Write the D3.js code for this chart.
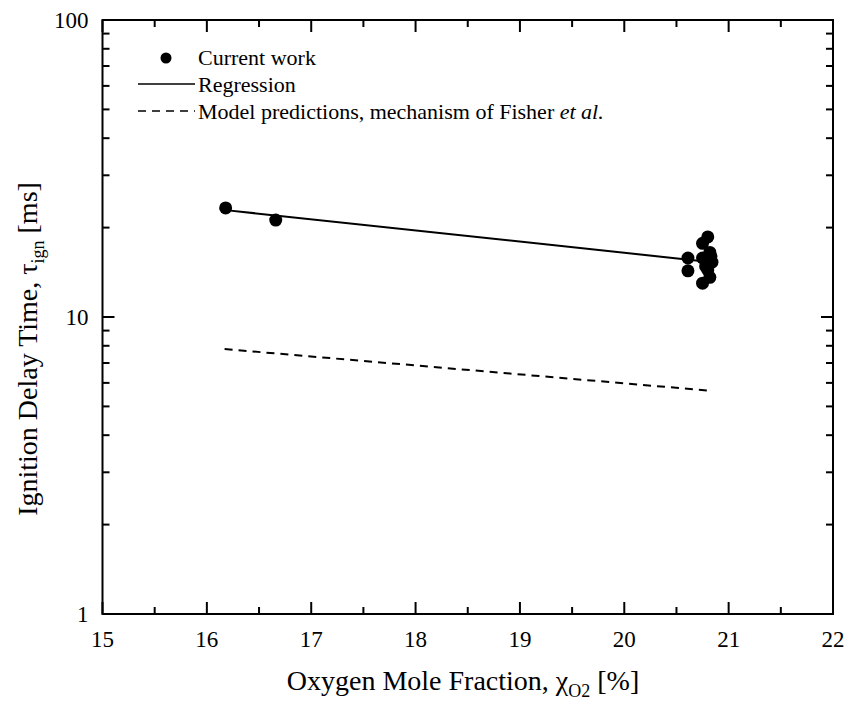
<!DOCTYPE html>
<html>
<head>
<meta charset="utf-8">
<script src="https://cdn.jsdelivr.net/npm/d3@7"></script>
<style>
  html, body { margin: 0; padding: 0; background: #fff; }
  svg { display: block; }
</style>
</head>
<body>
<svg id="chart" width="847" height="703" font-family="'Liberation Serif', 'DejaVu Serif', serif"></svg>
<script>
// Measured ignition delay times (current work)
const measO2  = [16.18, 16.66, 20.61, 20.61, 20.80, 20.75, 20.82, 20.79, 20.80, 20.82, 20.75, 20.75, 20.78, 20.84, 20.83];
const measTau = [23.3, 21.2, 15.8, 14.3, 18.6, 17.7, 16.5, 15.3, 14.4, 13.6, 13.0, 15.8, 14.8, 15.3, 16.0];

// Regression through the measurements (endpoints)
const regO2  = [16.18, 20.84];
const regTau = [22.9, 15.3];

// Model predictions, mechanism of Fisher et al. (endpoints)
const modelO2  = [16.17, 20.84];
const modelTau = [7.80, 5.64];

// Axis ticks
const xTicks = [15, 16, 17, 18, 19, 20, 21, 22];
const xMinorTicks = [15.5, 16.5, 17.5, 18.5, 19.5, 20.5, 21.5];
const yTicks = [1, 10, 100];
const yMinorTicks = [2, 3, 4, 5, 6, 7, 8, 9, 20, 30, 40, 50, 60, 70, 80, 90];

const svg = d3.select("#chart");
const plotL = 102.5, plotR = 833, plotT = 20, plotB = 614;
const serif = "'Liberation Serif', 'DejaVu Serif', serif";

const x = d3.scaleLinear().domain([15, 22]).range([plotL, plotR]);
const y = d3.scaleLog().domain([1, 100]).range([plotB, plotT]);

const majorLen = 12, minorLen = 7;

// Frame
svg.append("rect")
  .attr("x", plotL).attr("y", plotT)
  .attr("width", plotR - plotL).attr("height", plotB - plotT)
  .attr("fill", "none").attr("stroke", "#000").attr("stroke-width", 2);

const ticks = svg.append("g").attr("stroke", "#000").attr("stroke-width", 2);

// Bottom and top ticks (inward)
function xTick(v, len) {
  ticks.append("line").attr("x1", x(v)).attr("x2", x(v)).attr("y1", plotB).attr("y2", plotB - len);
  ticks.append("line").attr("x1", x(v)).attr("x2", x(v)).attr("y1", plotT).attr("y2", plotT + len);
}
xTicks.forEach(v => xTick(v, majorLen));
xMinorTicks.forEach(v => xTick(v, minorLen));

// Left and right ticks (inward)
function yTick(v, len) {
  ticks.append("line").attr("x1", plotL).attr("x2", plotL + len).attr("y1", y(v)).attr("y2", y(v));
  ticks.append("line").attr("x1", plotR).attr("x2", plotR - len).attr("y1", y(v)).attr("y2", y(v));
}
yTicks.forEach(v => yTick(v, majorLen));
yMinorTicks.forEach(v => yTick(v, minorLen));

// Tick labels
svg.append("g").selectAll("text").data(xTicks).join("text")
  .attr("x", d => x(d)).attr("y", plotB + 33)
  .attr("text-anchor", "middle")
  .attr("font-family", serif).attr("font-size", 23)
  .text(d => d);

svg.append("g").selectAll("text").data(yTicks).join("text")
  .attr("x", plotL - 14).attr("y", d => y(d) + 8)
  .attr("text-anchor", "end")
  .attr("font-family", serif).attr("font-size", 23)
  .text(d => d);

// Axis titles
const xt = svg.append("text")
  .attr("x", 463).attr("y", 690)
  .attr("text-anchor", "middle")
  .attr("font-family", serif).attr("font-size", 28);
xt.append("tspan").text("Oxygen Mole Fraction, χ");
xt.append("tspan").attr("dy", 7).attr("font-size", 18).text("O2");
xt.append("tspan").attr("dy", -7).text(" [%]");

const yt = svg.append("text")
  .attr("transform", "translate(37,349) rotate(-90)")
  .attr("text-anchor", "middle")
  .attr("font-family", serif).attr("font-size", 28);
yt.append("tspan").text("Ignition Delay Time, τ");
yt.append("tspan").attr("dy", 7).attr("font-size", 18).text("ign");
yt.append("tspan").attr("dy", -7).text(" [ms]");

// Lines
const line = d3.line().x(d => x(d[0])).y(d => y(d[1]));

svg.append("path")
  .datum(modelO2.map((v, i) => [v, modelTau[i]]))
  .attr("d", line)
  .attr("fill", "none").attr("stroke", "#000").attr("stroke-width", 2)
  .attr("stroke-dasharray", "8,6");

svg.append("path")
  .datum(regO2.map((v, i) => [v, regTau[i]]))
  .attr("d", line)
  .attr("fill", "none").attr("stroke", "#000").attr("stroke-width", 2);

// Measured points
svg.append("g").selectAll("circle")
  .data(measO2.map((v, i) => [v, measTau[i]]))
  .join("circle")
  .attr("cx", d => x(d[0])).attr("cy", d => y(d[1]))
  .attr("r", 6.5).attr("fill", "#000");

// Legend
const lg = svg.append("g");
lg.append("circle").attr("cx", 166).attr("cy", 58).attr("r", 5.5).attr("fill", "#000");
lg.append("line").attr("x1", 138).attr("x2", 195).attr("y1", 84).attr("y2", 84)
  .attr("stroke", "#000").attr("stroke-width", 1.5);
lg.append("line").attr("x1", 138).attr("x2", 195).attr("y1", 111).attr("y2", 111)
  .attr("stroke", "#000").attr("stroke-width", 1.5).attr("stroke-dasharray", "8,6");

const lgText = [
  { y: 65, parts: [["Current work", false]] },
  { y: 92, parts: [["Regression", false]] },
  { y: 119, parts: [["Model predictions, mechanism of Fisher ", false], ["et al.", true]] }
];
lgText.forEach(row => {
  const t = lg.append("text").attr("x", 198).attr("y", row.y)
    .attr("font-family", serif).attr("font-size", 22);
  row.parts.forEach(([s, it]) => t.append("tspan").attr("font-style", it ? "italic" : "normal").text(s));
});
</script>
</body>
</html>
